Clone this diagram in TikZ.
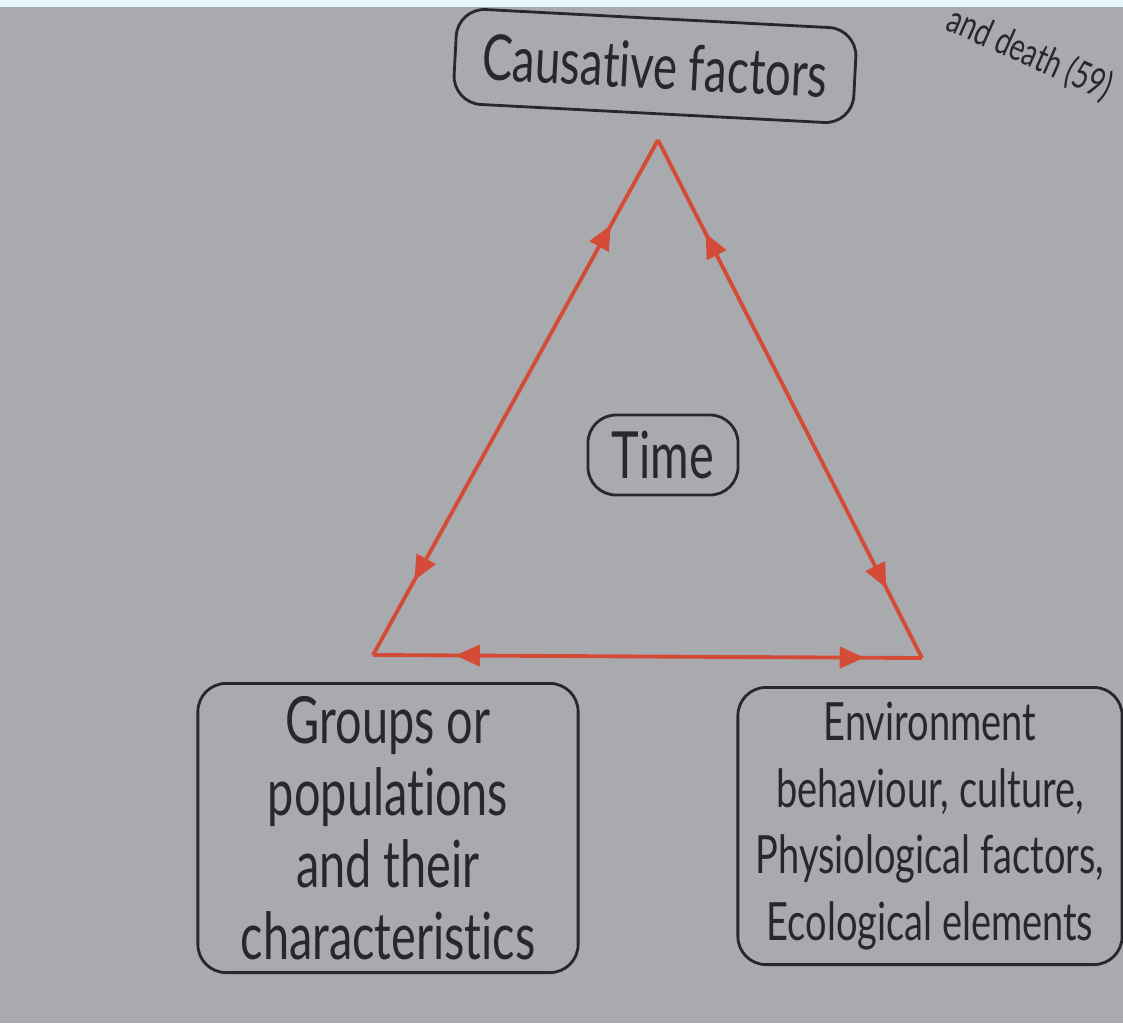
\documentclass[tikz,border=0pt]{standalone}
\usepackage{fontspec}
\setmainfont{Lato}
\newfontfamily\narrowfont[FakeStretch=0.72,Ligatures=NoCommon]{Lato}
\usetikzlibrary{positioning}
\usetikzlibrary{arrows.meta}
\usetikzlibrary{decorations.markings}
\usetikzlibrary{math}

\definecolor{pagegray}{RGB}{168,170,174}
\definecolor{edgered}{RGB}{212,76,56}
\definecolor{stripcyan}{RGB}{228,245,251}
\definecolor{inkgray}{RGB}{40,40,44}

\tikzset{
  factorbox/.style={draw=inkgray, line width=0.8pt, rounded corners=8pt,
    align=center, inner sep=2pt, text=inkgray, font=\narrowfont},
  flow/.style 2 args={draw=edgered, line width=1.1pt, postaction={decorate},
    decoration={markings,
      mark=at position #1 with {\arrowreversed{Triangle[length=7pt,width=6pt]}},
      mark=at position #2 with {\arrow{Triangle[length=7pt,width=6pt]}}}},
}

\begin{document}
\begin{tikzpicture}[x=0.01cm,y=-0.01cm]

  % page
  \clip (0,0) rectangle (1123,1023);
  \fill[pagegray] (0,0) rectangle (1123,1023);
  \fill[stripcyan] (0,0) rectangle (1123,7);

  % corners of the triangle
  \coordinate (apex)  at (658,140);
  \coordinate (left)  at (373,655);
  \coordinate (right) at (922,658);

  % edges, each one pointing out to both ends
  \draw[flow={0.165}{0.855}] (apex) -- (left);
  \draw[flow={0.18}{0.865}] (apex) -- (right);
  \draw[flow={0.15}{0.895}] (left) -- (right);

  % boxes
  \node[factorbox, rotate=-3, minimum width=4cm, minimum height=0.95cm,
    font=\narrowfont\fontsize{18}{20}\selectfont] (cause) at (655,66) {Causative factors};

  \node[factorbox, minimum width=1.5cm, minimum height=0.8cm,
    font=\narrowfont\fontsize{18.5}{20}\selectfont] (time) at (663,455) {Time};

  \node[factorbox, minimum width=3.8cm, minimum height=2.89cm,
    font=\narrowfont\fontsize{18.5}{20.5}\selectfont] (groups) at (388,828)
    {Groups or\\populations\\and their\\characteristics};

  \node[factorbox, minimum width=3.84cm, minimum height=2.77cm,
    font=\narrowfont\fontsize{15}{19}\selectfont] (env) at (930,826)
    {Environment\\behaviour, culture,\\Physiological factors,\\Ecological elements};

  % running text at the page corner
  \node[rotate=-24, text=inkgray, inner sep=1pt,
    font=\narrowfont\fontsize{11}{13}\selectfont] (corner) at (1030,54) {and death (59)};

\end{tikzpicture}
\end{document}
